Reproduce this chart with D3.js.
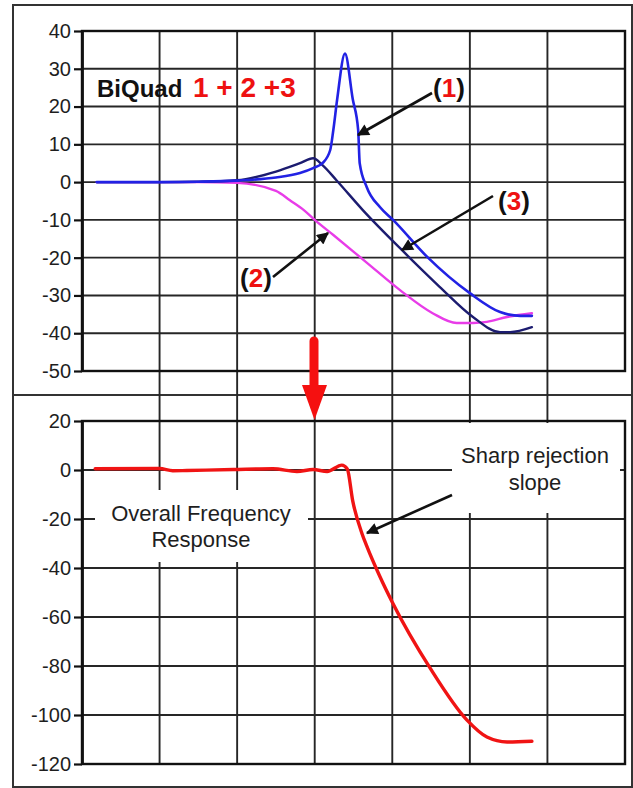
<!DOCTYPE html>
<html>
<head>
<meta charset="utf-8">
<script src="https://cdn.jsdelivr.net/npm/d3@7"></script>
<style>
  html, body { margin: 0; padding: 0; background: #fff; }
  svg { display: block; font-family: "Liberation Sans", Arial, sans-serif; }
</style>
</head>
<body>
<svg id="chart" width="633" height="788"></svg>
<script>
// ---------------- DATA ----------------
// x positions are in frequency-grid units (0 .. 7 grid columns)
const topTicks = [40, 30, 20, 10, 0, -10, -20, -30, -40, -50];
const bottomTicks = [20, 0, -20, -40, -60, -80, -100, -120];
const gridColumns = [1, 2, 3, 4, 5, 6];

// BiQuad (1) – blue, resonant peak
const biquad1X  = [0.19, 1.0, 1.5, 2.0, 2.5, 2.81, 2.98, 3.10, 3.20, 3.24, 3.29, 3.39, 3.49, 3.56, 3.58, 3.67, 3.84, 4.01, 4.45, 5.0, 5.39, 5.65, 5.80];
const biquad1Db = [0, 0, 0.1, 0.4, 1.2, 2.4, 3.7, 5.0, 8.5, 13.8, 22, 34, 22, 13.8, 5, -1.3, -6.6, -10, -19.8, -29.4, -34.4, -35.4, -35.4];

// BiQuad (2) – magenta
const biquad2X  = [0.19, 1.0, 1.5, 2.0, 2.5, 2.68, 2.86, 3.0, 3.24, 3.67, 4.1, 4.52, 4.83, 5.04, 5.22, 5.48, 5.80];
const biquad2Db = [0, 0, 0, -0.2, -2.3, -4.8, -7.4, -10, -14, -21.3, -28.6, -34.7, -37.3, -37.3, -37, -35.7, -34.7];

// BiQuad (3) – dark navy
const biquad3X  = [0.19, 1.0, 1.5, 2.0, 2.5, 2.81, 2.98, 3.10, 3.28, 3.62, 4.1, 4.61, 5.04, 5.39, 5.52, 5.80];
const biquad3Db = [0, 0, 0.1, 0.5, 2.8, 5.0, 6.3, 4.5, 0.5, -7.4, -17.5, -27.7, -35.7, -39.7, -39.7, -38.4];

// Overall frequency response – red
const overallX  = [0.17, 1.0, 1.17, 1.35, 1.95, 2.46, 2.77, 2.98, 3.16, 3.35, 3.42, 3.49, 3.61, 3.67, 3.84, 4.0, 4.49, 4.96, 5.22, 5.48, 5.80];
const overallDb = [0.5, 0.6, -0.3, -0.2, 0.2, 0.5, -0.6, 0.2, -0.6, 2.0, 0.4, -12.6, -26, -31, -43.5, -54, -81, -102, -109, -111, -110.7];

// ---------------- CHART ----------------
const svg = d3.select("#chart");
const FONT = "'Liberation Sans', Arial, sans-serif";

const x = d3.scaleLinear().domain([0, 7]).range([82, 625]);
const yTop = d3.scaleLinear().domain([-50, 40]).range([371, 31]);
const yBot = d3.scaleLinear().domain([-120, 20]).range([764, 421]);

// outer frames
svg.append("rect").attr("x", 13).attr("y", 5).attr("width", 619).attr("height", 390)
  .attr("fill", "none").attr("stroke", "#333").attr("stroke-width", 2);
svg.append("rect").attr("x", 13).attr("y", 395).attr("width", 619).attr("height", 392)
  .attr("fill", "none").attr("stroke", "#333").attr("stroke-width", 2);

const grid = svg.append("g").attr("stroke", "#262626").attr("stroke-width", 1.9);
// horizontal grid lines
grid.selectAll("line.ht").data(topTicks).join("line")
  .attr("x1", x(0)).attr("x2", x(7))
  .attr("y1", d => yTop(d)).attr("y2", d => yTop(d));
grid.selectAll("line.hb").data(bottomTicks).join("line")
  .attr("x1", x(0)).attr("x2", x(7))
  .attr("y1", d => yBot(d)).attr("y2", d => yBot(d));
// vertical grid lines (run through both panels)
grid.selectAll("line.v").data(gridColumns).join("line")
  .attr("x1", d => x(d)).attr("x2", d => x(d))
  .attr("y1", yTop(40)).attr("y2", yBot(-120));

// plot borders
[[yTop, 40, -50], [yBot, 20, -120]].forEach(([ys, a, b]) => {
  svg.append("rect").attr("x", x(0)).attr("y", ys(a))
    .attr("width", x(7) - x(0)).attr("height", ys(b) - ys(a))
    .attr("fill", "none").attr("stroke", "#111").attr("stroke-width", 2.4);
});

// white label boxes in the bottom panel
svg.append("rect").attr("x", 95).attr("y", 490).attr("width", 213).attr("height", 72).attr("fill", "#fff");
svg.append("rect").attr("x", 452).attr("y", 423).attr("width", 168).attr("height", 90).attr("fill", "#fff");

// axes
function styleAxis(g) {
  g.select(".domain").attr("stroke", "#111").attr("stroke-width", 2.8);
  g.selectAll(".tick line").attr("stroke", "#111").attr("stroke-width", 2.2);
  g.selectAll(".tick text").attr("fill", "#1e1e1e").attr("font-size", 20)
    .attr("font-family", FONT);
}
svg.append("g").attr("transform", `translate(${x(0)},0)`)
  .call(d3.axisLeft(yTop).tickValues(topTicks).tickSize(8).tickSizeOuter(0)
    .tickPadding(3).tickFormat(d => String(d)))
  .call(styleAxis);
svg.append("g").attr("transform", `translate(${x(0)},0)`)
  .call(d3.axisLeft(yBot).tickValues(bottomTicks).tickSize(8).tickSizeOuter(0)
    .tickPadding(3).tickFormat(d => String(d)))
  .call(styleAxis);

// curves
function drawCurve(xs, ys, yScale, color, width) {
  const pts = xs.map((v, i) => [v, ys[i]]);
  const line = d3.line().x(d => x(d[0])).y(d => yScale(d[1])).curve(d3.curveMonotoneX);
  svg.append("path").attr("d", line(pts)).attr("fill", "none")
    .attr("stroke", color).attr("stroke-width", width)
    .attr("stroke-linejoin", "round").attr("stroke-linecap", "round");
}
drawCurve(biquad2X, biquad2Db, yTop, "#e83ce8", 2.4);
drawCurve(biquad3X, biquad3Db, yTop, "#1c1c70", 2.4);
drawCurve(biquad1X, biquad1Db, yTop, "#2222e4", 2.6);
drawCurve(overallX, overallDb, yBot, "#f01414", 3.4);

// black annotation arrows
const defs = svg.append("defs");
defs.append("marker").attr("id", "ah").attr("viewBox", "0 0 10 10")
  .attr("refX", 9).attr("refY", 5).attr("markerWidth", 6).attr("markerHeight", 4.6)
  .attr("markerUnits", "strokeWidth").attr("orient", "auto")
  .append("path").attr("d", "M0,0 L10,5 L0,10 Z").attr("fill", "#111");
function arrow(x1, y1, x2, y2) {
  svg.append("line").attr("x1", x1).attr("y1", y1).attr("x2", x2).attr("y2", y2)
    .attr("stroke", "#111").attr("stroke-width", 2.6).attr("marker-end", "url(#ah)");
}
arrow(432, 93, 358, 135);
arrow(493, 196, 402, 250);
arrow(273, 277, 328, 233);
arrow(452, 495, 367, 533);

// red down arrow between panels
svg.append("line").attr("x1", 314).attr("y1", 341).attr("x2", 314).attr("y2", 390)
  .attr("stroke", "#f51010").attr("stroke-width", 9).attr("stroke-linecap", "round");
svg.append("path").attr("d", "M302,385 L327,385 L314.5,420 Z").attr("fill", "#f51010");

// texts
svg.append("text").attr("x", 97).attr("y", 97).attr("font-family", FONT)
  .attr("font-size", 24).attr("font-weight", "bold").attr("fill", "#111").text("BiQuad");
svg.append("text").attr("x", 193).attr("y", 97).attr("font-family", FONT)
  .attr("font-size", 28).attr("font-weight", "bold").attr("fill", "#ee1111").text("1 + 2 +3");

function numLabel(xp, yp, n) {
  const t = svg.append("text").attr("x", xp).attr("y", yp).attr("font-family", FONT)
    .attr("font-size", 26).attr("font-weight", "bold").attr("fill", "#111");
  t.append("tspan").text("(");
  t.append("tspan").attr("fill", "#ee1111").text(n);
  t.append("tspan").text(")");
}
numLabel(433, 97, "1");
numLabel(498, 210, "3");
numLabel(240, 287, "2");

function multiLine(cx, y0, lines, dy) {
  lines.forEach((s, i) => {
    svg.append("text").attr("x", cx).attr("y", y0 + i * dy).attr("text-anchor", "middle")
      .attr("font-family", FONT).attr("font-size", 22).attr("fill", "#1e1e1e").text(s);
  });
}
multiLine(201, 521, ["Overall Frequency", "Response"], 26);
multiLine(535, 463, ["Sharp rejection", "slope"], 27);
</script>
</body>
</html>
